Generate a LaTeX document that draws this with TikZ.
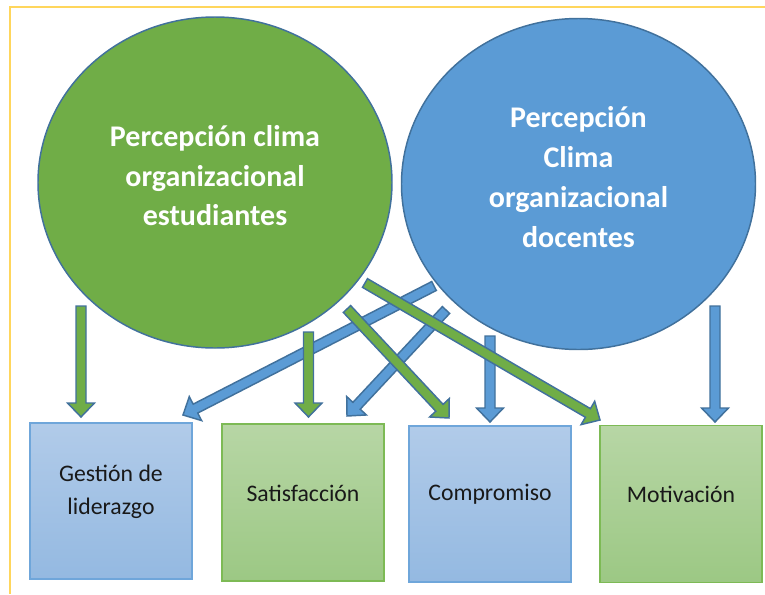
\documentclass[tikz,border=0pt]{standalone}
\usepackage{fontspec}
\setmainfont{Carlito}
\usetikzlibrary{calc,shapes.geometric}
\definecolor{gfill}{HTML}{70AD47}
\definecolor{bfill}{HTML}{5B9BD5}
\definecolor{outl}{HTML}{41719C}
\definecolor{yframe}{HTML}{FFD65C}
\definecolor{btop}{HTML}{B1CBE9}
\definecolor{bbot}{HTML}{94B9E1}
\definecolor{gtop}{HTML}{B7D6A5}
\definecolor{gbot}{HTML}{9CC884}
\definecolor{gline}{HTML}{7DBA55}
\definecolor{bline}{HTML}{6FA6DA}
\tikzset{
 circ/.style={ellipse, draw=outl, line width=1.1pt, minimum width=265.5pt, minimum height=248.25pt, inner sep=0pt},
 bbox/.style={rectangle, draw=bline, line width=0.9pt, top color=btop, bottom color=bbot, minimum width=121.5pt, minimum height=117pt, inner sep=0pt},
 gbox/.style={rectangle, draw=gline, line width=0.9pt, top color=gtop, bottom color=gbot, minimum width=121.5pt, minimum height=117.75pt, inner sep=0pt},
 ctext/.style={text=white, font=\bfseries\fontsize{22.5}{29.6}\selectfont, align=center, inner sep=0pt},
 btext/.style={text=black!90, font=\fontsize{17.8}{24.75}\selectfont, align=center, inner sep=0pt},
 barr/.style={draw=outl, fill=bfill, line width=1.1pt},
 garr/.style={draw=outl, fill=gfill, line width=1.1pt},
}
\newcommand\blockarrow[3]{%
 \draw[#1] ($(#2)!3.75pt!90:(#3)$) --
  ($($(#3)!10.5pt!(#2)$)!3.75pt!-90:(#2)$) --
  ($($(#3)!10.5pt!(#2)$)!10.1pt!-90:(#2)$) -- (#3) --
  ($($(#3)!10.5pt!(#2)$)!10.1pt!90:(#2)$) --
  ($($(#3)!10.5pt!(#2)$)!3.75pt!90:(#2)$) --
  ($(#2)!3.75pt!-90:(#3)$) -- cycle;}
\begin{document}
\begin{tikzpicture}[x=0.75pt,y=-0.75pt]
\useasboundingbox (0,0) rectangle (765,594);
\fill[white] (0,0) rectangle (765,594);
\draw[yframe, line width=1.5pt] (10,594) -- (10,7) -- (765,7);
% circles
\node[circ, fill=gfill] (cg) at (215,182.5) {};
\node[circ, fill=bfill] (cb) at (578.5,184) {};
\node[ctext] (tg) at ($(cg.center)+(0,-6.5)$) {Percepción clima\\organizacional\\estudiantes};
\node[ctext, font=\bfseries\fontsize{22.5}{30.2}\selectfont] (tb) at ($(cb.center)+(0,-7)$) {Percepción\\Clima\\organizacional\\docentes};
% boxes
\node[bbox] (b1) at (111,501) {};
\node[gbox] (b2) at (303,502.5) {};
\node[bbox] (b3) at (490,504) {};
\node[gbox] (b4) at (681,504) {};
\node[btext] (t1) at ($(b1.center)+(0,-9.5)$) {Gestión de\\liderazgo};
\node[btext] (t2) at ($(b2.center)+(0,-9.5)$) {Satisfacción};
\node[btext] (t3) at ($(b3.center)+(0,-9.5)$) {Compromiso};
\node[btext] (t4) at ($(b4.center)+(0,-9.5)$) {Motivación};
% arrow end points
\coordinate (a1s) at (81,306);    \coordinate (a1e) at (81,417);
\coordinate (a2s) at (308.5,332); \coordinate (a2e) at (308.5,417);
\coordinate (a3s) at (434,286);   \coordinate (a3e) at (183,415);
\coordinate (a4s) at (446,310);   \coordinate (a4e) at (347,416);
\coordinate (a5s) at (347,309);   \coordinate (a5e) at (449,418);
\coordinate (a6s) at (365,283);   \coordinate (a6e) at (600,420);
\coordinate (a7s) at (490,336);   \coordinate (a7e) at (490,422);
\coordinate (a8s) at (715,306);   \coordinate (a8e) at (715,422);
% blue arrows first
\blockarrow{barr}{a3s}{a3e}
\blockarrow{barr}{a4s}{a4e}
\blockarrow{barr}{a7s}{a7e}
\blockarrow{barr}{a8s}{a8e}
% green arrows on top
\blockarrow{garr}{a1s}{a1e}
\blockarrow{garr}{a2s}{a2e}
\blockarrow{garr}{a5s}{a5e}
\blockarrow{garr}{a6s}{a6e}
\end{tikzpicture}
\end{document}
